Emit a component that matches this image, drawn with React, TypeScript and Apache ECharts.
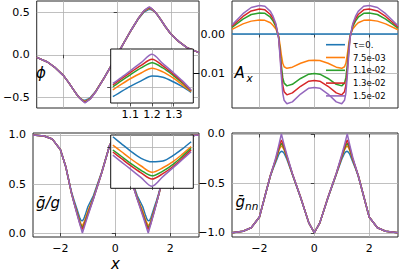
import React, { useEffect, useRef } from 'react';
import * as echarts from 'echarts';

// shared x grid of the four main panels
const X = [-3, -2.6, -2.3, -2, -1.8, -1.6, -1.5, -1.4, -1.3, -1.25, -1.2, -1.15, -1.1, -1.0, -0.8, -0.5, -0.2, 0, 0.2, 0.5, 0.8, 1.0, 1.1, 1.15, 1.2, 1.25, 1.3, 1.4, 1.5, 1.6, 1.8, 2, 2.3, 2.6, 3.05];
// x grid of the two insets
const INSET_X = [1.02, 1.06, 1.1, 1.15, 1.2, 1.25, 1.3, 1.34, 1.38];

const TAU_NAMES = ['τ=0.', '7.5e-03', '1.1e-02', '1.3e-02', '1.5e-02'];
const COLORS = ['#1f77b4', '#ff7f0e', '#2ca02c', '#d62728', '#9467bd'];

// phi
const PHI_0 = [-0.03, -0.085, -0.155, -0.245, -0.33, -0.424, -0.468, -0.507, -0.527, -0.5335, -0.5353, -0.5285, -0.521, -0.503, -0.428, -0.278, -0.114, 0, 0.114, 0.278, 0.428, 0.503, 0.521, 0.5285, 0.5353, 0.5335, 0.527, 0.507, 0.468, 0.424, 0.33, 0.245, 0.155, 0.085, 0.025];
const PHI_1 = [-0.03, -0.085, -0.155, -0.245, -0.33, -0.425, -0.47, -0.508, -0.532, -0.541, -0.546, -0.5395, -0.5315, -0.512, -0.431, -0.279, -0.115, 0, 0.115, 0.279, 0.431, 0.512, 0.5315, 0.5395, 0.546, 0.541, 0.532, 0.508, 0.47, 0.425, 0.33, 0.245, 0.155, 0.085, 0.025];
const PHI_2 = [-0.03, -0.085, -0.155, -0.245, -0.33, -0.425, -0.47, -0.5085, -0.5355, -0.5465, -0.5538, -0.5465, -0.537, -0.516, -0.433, -0.28, -0.115, 0, 0.115, 0.28, 0.433, 0.516, 0.537, 0.5465, 0.5538, 0.5465, 0.5355, 0.5085, 0.47, 0.425, 0.33, 0.245, 0.155, 0.085, 0.025];
const PHI_3 = [-0.03, -0.085, -0.155, -0.245, -0.33, -0.425, -0.47, -0.509, -0.5375, -0.5495, -0.5585, -0.55, -0.54, -0.518, -0.434, -0.28, -0.115, 0, 0.115, 0.28, 0.434, 0.518, 0.54, 0.55, 0.5585, 0.5495, 0.5375, 0.509, 0.47, 0.425, 0.33, 0.245, 0.155, 0.085, 0.025];
const PHI_4 = [-0.03, -0.085, -0.155, -0.245, -0.33, -0.425, -0.47, -0.51, -0.5395, -0.5525, -0.5654, -0.554, -0.5425, -0.52, -0.435, -0.28, -0.115, 0, 0.115, 0.28, 0.435, 0.52, 0.5425, 0.554, 0.5654, 0.5525, 0.5395, 0.51, 0.47, 0.425, 0.33, 0.245, 0.155, 0.085, 0.025];

// A_x
const AX_0 = [0, 0, 0, 0, 0, 0, 0, 0, 0, 0, 0, 0, 0, 0, 0, 0, 0, 0, 0, 0, 0, 0, 0, 0, 0, 0, 0, 0, 0, 0, 0, 0, 0, 0, 0];
const AX_1 = [0.0012, 0.0026, 0.0033, 0.0036, 0.0035, 0.0029, 0.0022, 0.0013, -0.0005, -0.0028, -0.0054, -0.0075, -0.0084, -0.0088, -0.0085, -0.0075, -0.0068, -0.0067, -0.0068, -0.0075, -0.0085, -0.0088, -0.0084, -0.0075, -0.0054, -0.0028, -0.0005, 0.0013, 0.0022, 0.0029, 0.0035, 0.0036, 0.0033, 0.0026, 0.0011];
const AX_2 = [0.0017, 0.0038, 0.005, 0.0054, 0.0053, 0.0043, 0.0033, 0.0019, -0.0008, -0.0043, -0.0081, -0.0112, -0.0126, -0.0133, -0.0129, -0.0114, -0.0103, -0.0101, -0.0103, -0.0114, -0.0129, -0.0133, -0.0126, -0.0112, -0.0081, -0.0043, -0.0008, 0.0019, 0.0033, 0.0043, 0.0053, 0.0054, 0.005, 0.0038, 0.0015];
const AX_3 = [0.002, 0.0045, 0.0059, 0.0064, 0.0062, 0.005, 0.0039, 0.0023, -0.001, -0.005, -0.0096, -0.0132, -0.0148, -0.0156, -0.0151, -0.0134, -0.0121, -0.0119, -0.0121, -0.0134, -0.0151, -0.0156, -0.0148, -0.0132, -0.0096, -0.005, -0.001, 0.0023, 0.0039, 0.005, 0.0062, 0.0064, 0.0059, 0.0045, 0.0018];
const AX_4 = [0.0023, 0.0052, 0.0068, 0.0073, 0.0071, 0.0058, 0.0045, 0.0026, -0.0011, -0.0058, -0.011, -0.0152, -0.017, -0.0179, -0.0174, -0.0154, -0.0139, -0.0137, -0.0139, -0.0154, -0.0174, -0.0179, -0.017, -0.0152, -0.011, -0.0058, -0.0011, 0.0026, 0.0045, 0.0058, 0.0071, 0.0073, 0.0068, 0.0052, 0.0021];

// g-bar / g
const GG_0 = [1.0, 0.99, 0.96, 0.85, 0.67, 0.42, 0.33, 0.245, 0.158, 0.128, 0.124, 0.142, 0.18, 0.268, 0.38, 0.62, 0.9, 0.99, 0.9, 0.62, 0.38, 0.268, 0.18, 0.142, 0.124, 0.128, 0.158, 0.245, 0.33, 0.42, 0.67, 0.85, 0.96, 0.99, 1.0];
const GG_1 = [1.0, 0.99, 0.96, 0.85, 0.67, 0.41, 0.31, 0.22, 0.128, 0.094, 0.071, 0.103, 0.141, 0.225, 0.36, 0.615, 0.9, 0.99, 0.9, 0.615, 0.36, 0.225, 0.141, 0.103, 0.071, 0.094, 0.128, 0.22, 0.31, 0.41, 0.67, 0.85, 0.96, 0.99, 1.0];
const GG_2 = [1.0, 0.99, 0.96, 0.85, 0.67, 0.41, 0.305, 0.212, 0.114, 0.077, 0.053, 0.081, 0.118, 0.2, 0.355, 0.61, 0.9, 0.99, 0.9, 0.61, 0.355, 0.2, 0.118, 0.081, 0.053, 0.077, 0.114, 0.212, 0.305, 0.41, 0.67, 0.85, 0.96, 0.99, 1.0];
const GG_3 = [1.0, 0.99, 0.96, 0.85, 0.67, 0.41, 0.305, 0.204, 0.103, 0.064, 0.037, 0.068, 0.106, 0.19, 0.35, 0.61, 0.9, 0.99, 0.9, 0.61, 0.35, 0.19, 0.106, 0.068, 0.037, 0.064, 0.103, 0.204, 0.305, 0.41, 0.67, 0.85, 0.96, 0.99, 1.0];
const GG_4 = [1.0, 0.99, 0.96, 0.85, 0.67, 0.41, 0.3, 0.195, 0.097, 0.049, 0.0, 0.044, 0.088, 0.176, 0.345, 0.61, 0.9, 0.99, 0.9, 0.61, 0.345, 0.176, 0.088, 0.044, 0.0, 0.049, 0.097, 0.195, 0.3, 0.41, 0.67, 0.85, 0.96, 0.99, 1.0];

// g-bar_nn
const GNN_0 = [-1.0, -0.985, -0.95, -0.84, -0.63, -0.425, -0.35, -0.28, -0.21, -0.185, -0.175, -0.18, -0.195, -0.255, -0.41, -0.645, -0.9, -1.0, -0.9, -0.645, -0.41, -0.255, -0.195, -0.18, -0.175, -0.185, -0.21, -0.28, -0.35, -0.425, -0.63, -0.84, -0.95, -0.985, -1.0];
const GNN_1 = [-1.0, -0.985, -0.95, -0.84, -0.63, -0.42, -0.34, -0.26, -0.175, -0.14, -0.12, -0.135, -0.16, -0.235, -0.406, -0.64, -0.9, -1.0, -0.9, -0.64, -0.406, -0.235, -0.16, -0.135, -0.12, -0.14, -0.175, -0.26, -0.34, -0.42, -0.63, -0.84, -0.95, -0.985, -1.0];
const GNN_2 = [-1.0, -0.985, -0.95, -0.84, -0.63, -0.42, -0.338, -0.255, -0.16, -0.12, -0.095, -0.115, -0.15, -0.23, -0.404, -0.64, -0.9, -1.0, -0.9, -0.64, -0.404, -0.23, -0.15, -0.115, -0.095, -0.12, -0.16, -0.255, -0.338, -0.42, -0.63, -0.84, -0.95, -0.985, -1.0];
const GNN_3 = [-1.0, -0.985, -0.95, -0.84, -0.63, -0.42, -0.335, -0.25, -0.145, -0.1, -0.06, -0.095, -0.135, -0.225, -0.402, -0.64, -0.9, -1.0, -0.9, -0.64, -0.402, -0.225, -0.135, -0.095, -0.06, -0.1, -0.145, -0.25, -0.335, -0.42, -0.63, -0.84, -0.95, -0.985, -1.0];
const GNN_4 = [-1.0, -0.985, -0.95, -0.84, -0.63, -0.42, -0.33, -0.235, -0.12, -0.06, 0.0, -0.055, -0.11, -0.21, -0.4, -0.64, -0.9, -1.0, -0.9, -0.64, -0.4, -0.21, -0.11, -0.055, 0.0, -0.06, -0.12, -0.235, -0.33, -0.42, -0.63, -0.84, -0.95, -0.985, -1.0];

// insets (zoom near x = 1.2)
const PHI_IN_0 = [0.5065, 0.514, 0.521, 0.5285, 0.5353, 0.5335, 0.527, 0.5205, 0.5125];
const PHI_IN_1 = [0.516, 0.524, 0.5315, 0.5395, 0.546, 0.541, 0.532, 0.523, 0.5135];
const PHI_IN_2 = [0.5204, 0.529, 0.537, 0.5465, 0.5538, 0.5465, 0.5355, 0.5255, 0.5145];
const PHI_IN_3 = [0.5228, 0.5315, 0.54, 0.55, 0.5585, 0.5495, 0.5375, 0.527, 0.515];
const PHI_IN_4 = [0.525, 0.5335, 0.5425, 0.554, 0.5654, 0.5525, 0.5395, 0.5285, 0.516];

const GG_IN_0 = [0.251, 0.215, 0.18, 0.142, 0.124, 0.128, 0.158, 0.19, 0.226];
const GG_IN_1 = [0.209, 0.175, 0.141, 0.103, 0.071, 0.094, 0.128, 0.163, 0.201];
const GG_IN_2 = [0.184, 0.151, 0.118, 0.081, 0.053, 0.077, 0.114, 0.152, 0.192];
const GG_IN_3 = [0.174, 0.14, 0.106, 0.068, 0.037, 0.064, 0.103, 0.142, 0.184];
const GG_IN_4 = [0.158, 0.123, 0.088, 0.044, 0.0, 0.049, 0.097, 0.136, 0.175];

// tick values
const X_TICKS = [-2, 0, 2];
const INSET_X_TICKS = [1.1, 1.2, 1.3];
const PHI_TICKS = [-0.5, 0, 0.5];
const AX_TICKS = [-0.01, 0];
const GG_TICKS = [0, 0.5, 1];
const GNN_TICKS = [-1, -0.5, 0];
const PHI_IN_TICKS = [0.52];
const GG_IN_TICKS = [0.2];

const FONT = 'DejaVu Sans';

const fmt = (d: number) => (v: number) => {
  const s = Number(v).toFixed(d);
  return s.startsWith('-') ? '\u2212' + s.slice(1) : s;
};

function axis(grid: number, min: number, max: number, ticks: number[], showLabel: boolean, digits: number, z: number, margin: number) {
  return {
    type: 'value',
    gridIndex: grid,
    min,
    max,
    z,
    axisLine: { show: false },
    axisTick: { show: true, customValues: ticks, length: 3.5, lineStyle: { color: '#222', width: 0.8 } },
    axisLabel: {
      show: showLabel,
      customValues: ticks,
      formatter: fmt(digits),
      fontSize: 11,
      fontFamily: FONT,
      color: '#000',
      margin,
    },
    splitLine: { show: true, lineStyle: { color: '#b0b0b0', width: 0.8 } },
  };
}

export default function App() {
  const ref = useRef<HTMLDivElement>(null);
  useEffect(() => {
    if (!ref.current) return;
    const chart = echarts.init(ref.current, undefined, { renderer: 'svg' });

    const mainSets = [
      [PHI_0, PHI_1, PHI_2, PHI_3, PHI_4],
      [AX_0, AX_1, AX_2, AX_3, AX_4],
      [GG_0, GG_1, GG_2, GG_3, GG_4],
      [GNN_0, GNN_1, GNN_2, GNN_3, GNN_4],
    ];
    const insetSets = [
      [PHI_IN_0, PHI_IN_1, PHI_IN_2, PHI_IN_3, PHI_IN_4],
      [GG_IN_0, GG_IN_1, GG_IN_2, GG_IN_3, GG_IN_4],
    ];

    const series: any[] = [];
    mainSets.forEach((set, p) => {
      set.forEach((arr, i) => {
        series.push({
          type: 'line',
          name: TAU_NAMES[i],
          xAxisIndex: p,
          yAxisIndex: p,
          data: X.map((x, j) => [x, arr[j]]),
          symbol: 'none',
          silent: true,
          z: 2,
          lineStyle: { color: COLORS[i], width: 1.5 },
          itemStyle: { color: COLORS[i] },
          emphasis: { disabled: true },
        });
      });
    });
    insetSets.forEach((set, k) => {
      set.forEach((arr, i) => {
        series.push({
          type: 'line',
          name: TAU_NAMES[i],
          xAxisIndex: 4 + k,
          yAxisIndex: 4 + k,
          data: INSET_X.map((x, j) => [x, arr[j]]),
          symbol: 'none',
          smooth: 0.3,
          silent: true,
          z: 7,
          lineStyle: { color: COLORS[i], width: 1.5 },
          itemStyle: { color: COLORS[i] },
          emphasis: { disabled: true },
        });
      });
    });

    const frame = { show: true, borderColor: '#262626', borderWidth: 1, backgroundColor: 'transparent' };
    const inset = { show: true, borderColor: '#111', borderWidth: 1, backgroundColor: '#ffffff', z: 5 };

    const textStyle = (size: number, italic = true) => ({
      fontSize: size,
      fontFamily: FONT,
      fontStyle: italic ? 'italic' : 'normal',
      fill: '#000',
    });

    chart.setOption({
      animation: false,
      grid: [
        { left: 33, top: 1, width: 166, height: 107, ...frame },
        { left: 232, top: 1, width: 166, height: 107, ...frame },
        { left: 33, top: 133, width: 166, height: 104, ...frame },
        { left: 232, top: 133, width: 166, height: 104, ...frame },
        { left: 110.7, top: 49, width: 82.6, height: 54, ...inset },
        { left: 110.7, top: 135, width: 82.6, height: 53.3, ...inset },
      ],
      xAxis: [
        axis(0, -3, 3.05, X_TICKS, false, 0, 0, 6),
        axis(1, -3, 3.05, X_TICKS, false, 0, 0, 6),
        axis(2, -3, 3.05, X_TICKS, true, 0, 0, 6),
        axis(3, -3, 3.05, X_TICKS, true, 0, 0, 6),
        axis(4, 1.01, 1.39, INSET_X_TICKS, true, 1, 6, 6),
        axis(5, 1.01, 1.39, INSET_X_TICKS, false, 1, 6, 6),
      ],
      yAxis: [
        axis(0, -0.626, 0.633, PHI_TICKS, true, 1, 0, 7),
        axis(1, -0.01897, 0.00846, AX_TICKS, true, 2, 0, 7),
        axis(2, -0.0408, 1.0204, GG_TICKS, true, 1, 0, 7),
        axis(3, -1.043, 0.0101, GNN_TICKS, true, 1, 0, 7),
        axis(4, 0.4978, 0.5728, PHI_IN_TICKS, false, 2, 6, 7),
        axis(5, -0.01, 0.26, GG_IN_TICKS, false, 1, 6, 7),
      ],
      legend: {
        data: TAU_NAMES.map((n) => ({ name: n, icon: 'rect' })),
        orient: 'vertical',
        left: 326,
        top: 39.7,
        itemWidth: 19,
        itemHeight: 1.6,
        itemGap: 2.8,
        selectedMode: false,
        padding: 0,
        textStyle: { fontSize: 8.5, lineHeight: 10, fontFamily: FONT, color: '#000', padding: [0, 0, 0, 3] },
      },
      graphic: [
        { type: 'text', x: 41, y: 72.5, z: 10, style: { text: '\u03d5', ...textStyle(15), align: 'center', verticalAlign: 'middle' } },
        { type: 'text', x: 234.5, y: 72.5, z: 10, style: { text: 'A', ...textStyle(15), align: 'left', verticalAlign: 'middle' } },
        { type: 'text', x: 246.5, y: 78, z: 10, style: { text: 'x', ...textStyle(10.5), align: 'left', verticalAlign: 'middle' } },
        { type: 'text', x: 36, y: 202.5, z: 10, style: { text: '\u1e21/g', ...textStyle(15), align: 'left', verticalAlign: 'middle' } },
        { type: 'text', x: 235.5, y: 201.5, z: 10, style: { text: '\u1e21', ...textStyle(15), align: 'left', verticalAlign: 'middle' } },
        { type: 'text', x: 245, y: 206, z: 10, style: { text: 'nn', ...textStyle(10.5), align: 'left', verticalAlign: 'middle' } },
        { type: 'text', x: 115.5, y: 271.5, z: 10, style: { text: 'x', ...textStyle(15), align: 'center', verticalAlign: 'bottom' } },
      ],
      series,
    });
    return () => chart.dispose();
  }, []);

  return <div ref={ref} style={{ position: 'fixed', left: 0, top: 0, width: 399, height: 272, background: '#fff' }} />;
}
